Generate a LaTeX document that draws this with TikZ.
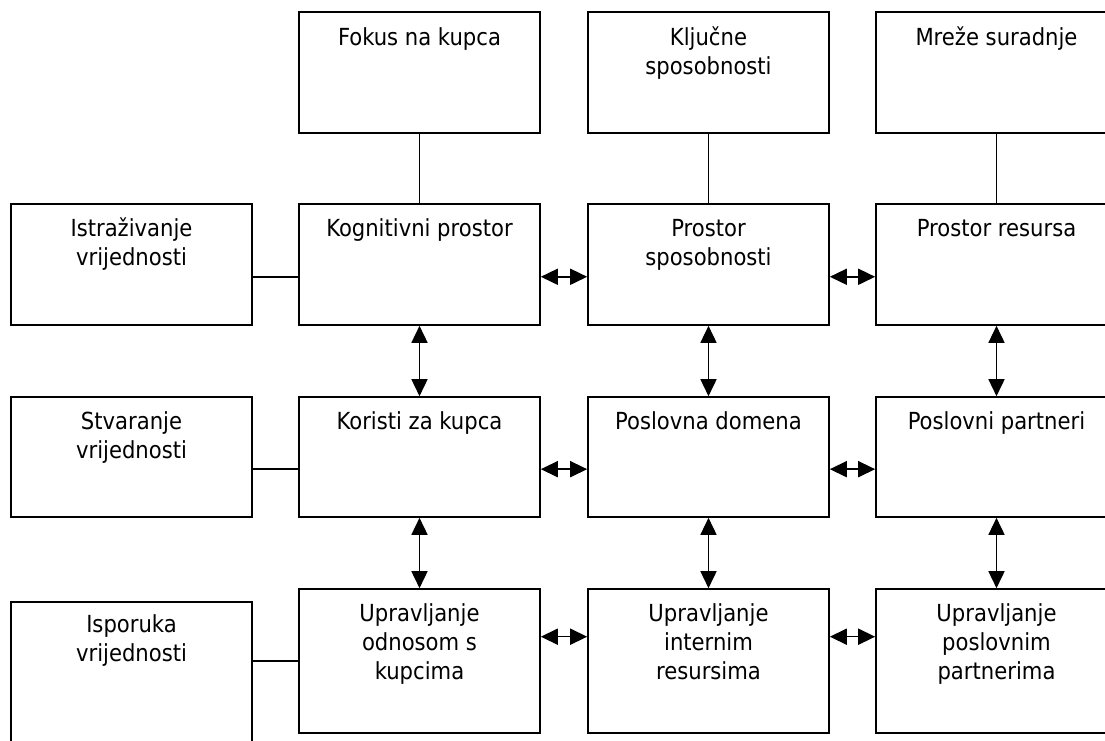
\documentclass[tikz,border=0pt]{standalone}
\usepackage{fontspec}
\setmainfont{DejaVu Sans Condensed}
\usetikzlibrary{arrows.meta,calc}
\begin{document}
\begin{tikzpicture}[x=1pt,y=-1pt,
  box/.style={draw=black,line width=1.6pt,rectangle,inner sep=0pt,minimum width=241pt},
  lbl/.style={anchor=north,inner sep=0pt,align=center,text=black,font=\fontsize{23.5}{29}\selectfont},
  link/.style={draw=black,line width=1.5pt},
  dbl/.style={draw=black,line width=1.6pt,{Triangle[length=17pt,width=16pt]}-{Triangle[length=17pt,width=16pt]}}
]
\useasboundingbox (0,0) rectangle (1105,740);
\clip (0,0) rectangle (1105,740);
\fill[white] (0,0) rectangle (1105,740);
% top row
\node[box,minimum height=121pt] (t1) at (419.5,72.5) {};
\node[box,minimum height=121pt] (t2) at (708.5,72.5) {};
\node[box,minimum height=121pt] (t3) at (996.5,72.5) {};
% row 1
\node[box,minimum height=121pt] (l1) at (131.5,264.5) {};
\node[box,minimum height=121pt] (a1) at (419.5,264.5) {};
\node[box,minimum height=121pt] (b1) at (708.5,264.5) {};
\node[box,minimum height=121pt] (c1) at (996.5,264.5) {};
% row 2
\node[box,minimum height=120pt] (l2) at (131.5,457) {};
\node[box,minimum height=120pt] (a2) at (419.5,457) {};
\node[box,minimum height=120pt] (b2) at (708.5,457) {};
\node[box,minimum height=120pt] (c2) at (996.5,457) {};
% row 3
\node[box,minimum height=145pt] (l3) at (131.5,674.5) {};
\node[box,minimum height=144pt] (a3) at (419.5,661) {};
\node[box,minimum height=144pt] (b3) at (708.5,661) {};
\node[box,minimum height=144pt] (c3) at (996.5,661) {};
% labels
\node[lbl,yshift=-14pt] (t1t) at (t1.north) {\strut Fokus na kupca};
\node[lbl,yshift=-14pt] (t2t) at (t2.north) {\strut Ključne\\sposobnosti};
\node[lbl,yshift=-14pt] (t3t) at (t3.north) {\strut Mreže suradnje};
\node[lbl,yshift=-13pt] (l1t) at (l1.north) {\strut Istraživanje\\vrijednosti};
\node[lbl,yshift=-13pt] (a1t) at (a1.north) {\strut Kognitivni prostor};
\node[lbl,yshift=-13pt] (b1t) at (b1.north) {\strut Prostor\\sposobnosti};
\node[lbl,yshift=-13pt] (c1t) at (c1.north) {\strut Prostor resursa};
\node[lbl,yshift=-13pt] (l2t) at (l2.north) {\strut Stvaranje\\vrijednosti};
\node[lbl,yshift=-13pt] (a2t) at (a2.north) {\strut Koristi za kupca};
\node[lbl,yshift=-13pt] (b2t) at (b2.north) {\strut Poslovna domena};
\node[lbl,yshift=-13pt] (c2t) at (c2.north) {\strut Poslovni partneri};
\node[lbl,yshift=-11pt] (l3t) at (l3.north) {\strut Isporuka\\vrijednosti};
\node[lbl,yshift=-13pt] (a3t) at (a3.north) {\strut Upravljanje\\odnosom s\\kupcima};
\node[lbl,yshift=-13pt] (b3t) at (b3.north) {\strut Upravljanje\\internim\\resursima};
\node[lbl,yshift=-13pt] (c3t) at (c3.north) {\strut Upravljanje\\poslovnim\\partnerima};
% top connectors
\draw[link] (t1.south) -- (a1.north);
\draw[link] (t2.south) -- (b1.north);
\draw[link] (t3.south) -- (c1.north);
% left connectors
\coordinate (p1) at ($(a1.north west)!0.6!(a1.south west)$);
\coordinate (p2) at ($(a2.north west)!0.6!(a2.south west)$);
\coordinate (p3) at ($(a3.north west)!0.5!(a3.south west)$);
\draw[link] (p1 -| l1.east) -- (p1);
\draw[link] (p2 -| l2.east) -- (p2);
\draw[link] (p3 -| l3.east) -- (p3);
% horizontal double arrows
\draw[dbl] ($(a1.north east)!0.6!(a1.south east)$) -- ($(b1.north west)!0.6!(b1.south west)$);
\draw[dbl] ($(b1.north east)!0.6!(b1.south east)$) -- ($(c1.north west)!0.6!(c1.south west)$);
\draw[dbl] ($(a2.north east)!0.6!(a2.south east)$) -- ($(b2.north west)!0.6!(b2.south west)$);
\draw[dbl] ($(b2.north east)!0.6!(b2.south east)$) -- ($(c2.north west)!0.6!(c2.south west)$);
\draw[dbl] ($(a3.north east)!0.333!(a3.south east)$) -- ($(b3.north west)!0.333!(b3.south west)$);
\draw[dbl] ($(b3.north east)!0.333!(b3.south east)$) -- ($(c3.north west)!0.333!(c3.south west)$);
% vertical double arrows
\draw[dbl] (a1.south) -- (a2.north);
\draw[dbl] (b1.south) -- (b2.north);
\draw[dbl] (c1.south) -- (c2.north);
\draw[dbl] (a2.south) -- (a3.north);
\draw[dbl] (b2.south) -- (b3.north);
\draw[dbl] (c2.south) -- (c3.north);
\end{tikzpicture}
\end{document}
